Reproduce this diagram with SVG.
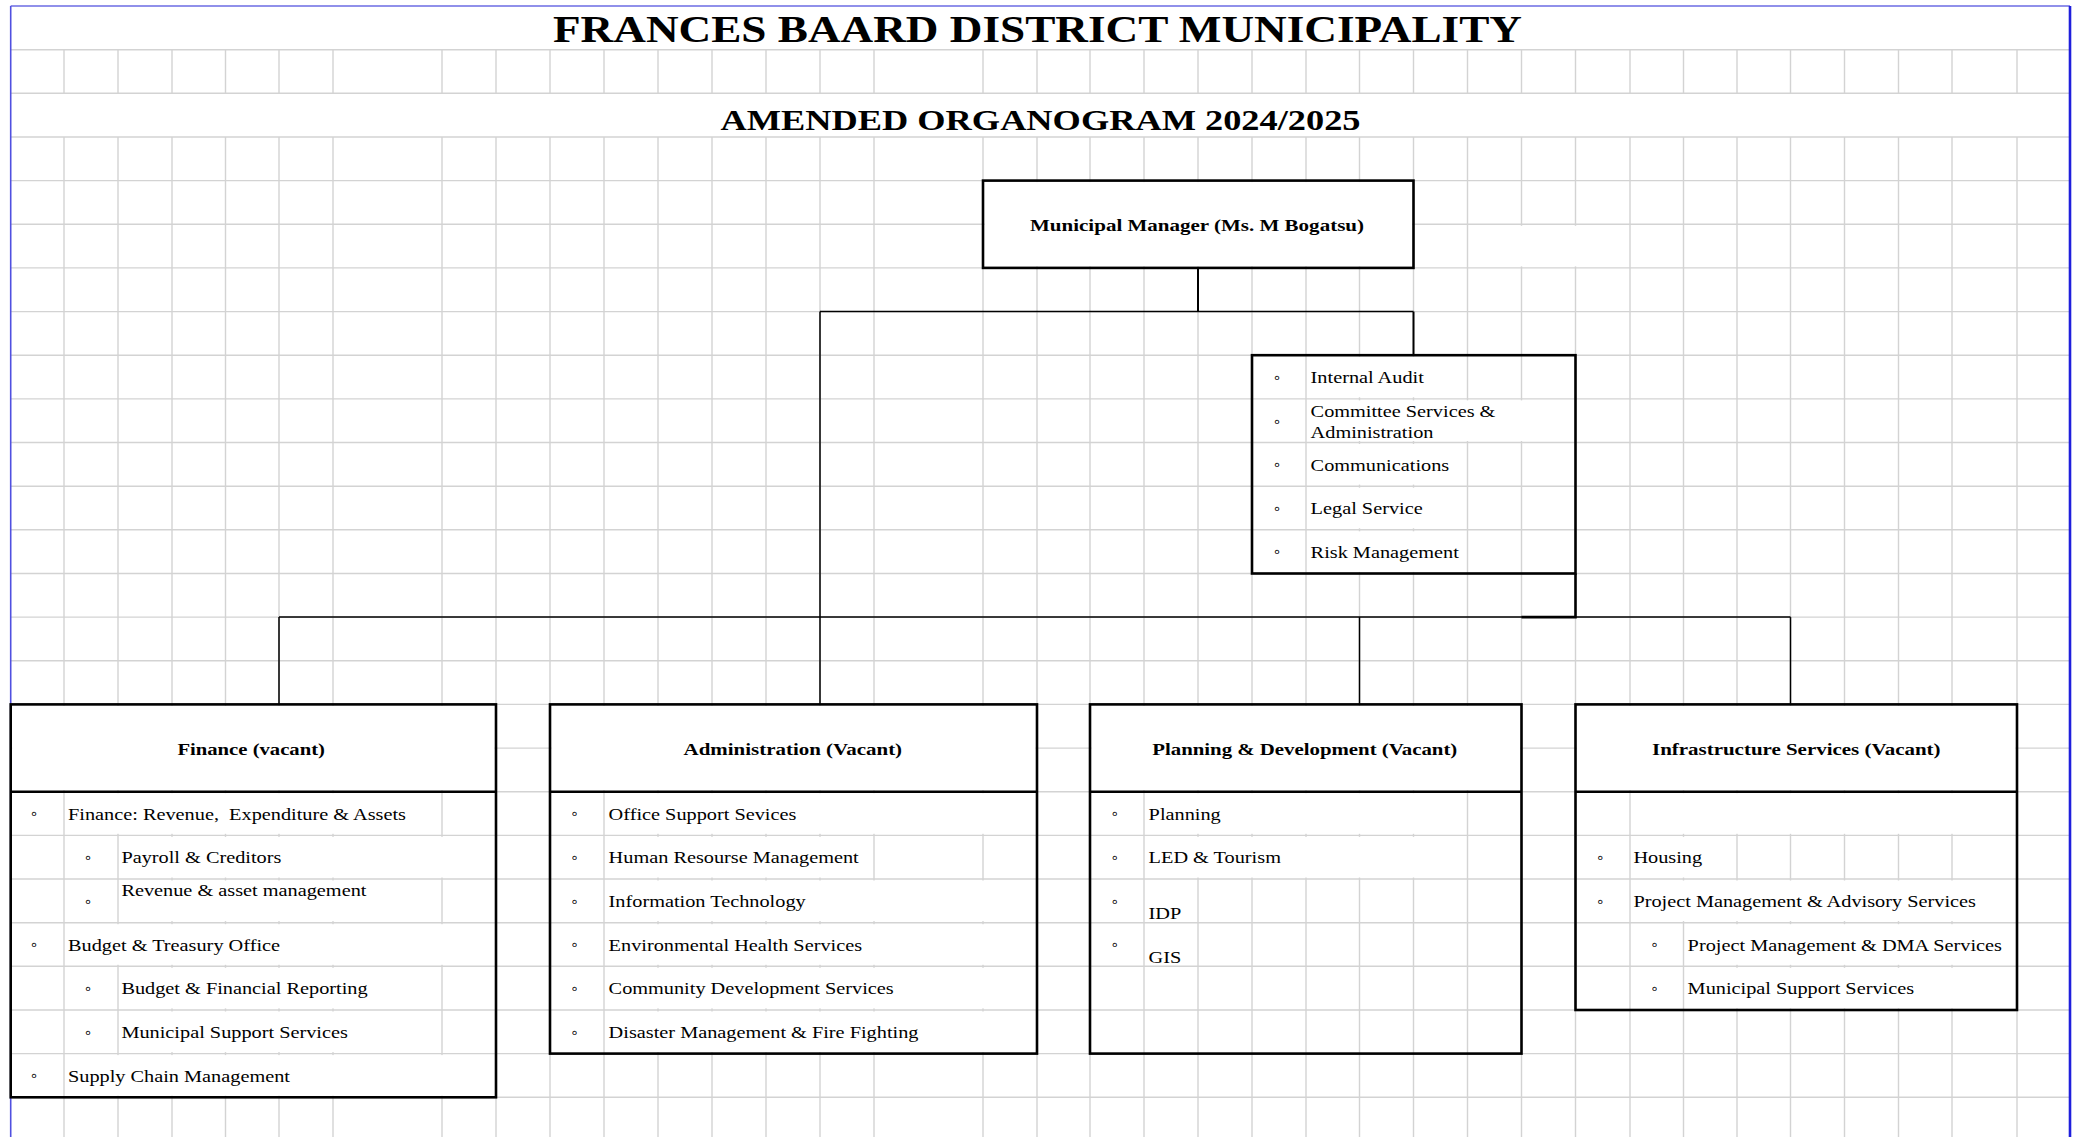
<svg xmlns="http://www.w3.org/2000/svg" width="2081" height="1137" viewBox="0 0 2081 1137">
<style>
.grid{fill:none;stroke:#d3d3d3;stroke-width:1.4}
.mask{fill:#ffffff}
.box{fill:none;stroke:#000;stroke-width:2.6}
.conn{fill:none;stroke:#000;stroke-width:1.5}
.stem{fill:none;stroke:#000;stroke-width:2}
.ttl{font-family:"Liberation Serif","Times New Roman",serif;font-weight:bold;fill:#000}
.h{font-family:"Liberation Serif","Times New Roman",serif;font-weight:bold;font-size:17.5px;fill:#000}
.t{font-family:"Liberation Serif","Times New Roman",serif;font-size:17.5px;fill:#000}
.b{font-family:"DejaVu Sans",sans-serif;font-weight:bold;font-size:11px;fill:#000;stroke:#000;stroke-width:0.3;text-anchor:middle}
</style>
<rect x="0" y="0" width="2081" height="1137" fill="#ffffff"/>
<g id="grid">
<path class="grid" d="M10.7 49.7H2070M10.7 93.3H2070M10.7 137H2070M10.7 180.6H2070M10.7 224.3H2070M10.7 267.9H2070M10.7 311.6H2070M10.7 355.2H2070M10.7 398.9H2070M10.7 442.5H2070M10.7 486.2H2070M10.7 529.8H2070M10.7 573.5H2070M10.7 617.1H2070M10.7 660.8H2070M10.7 704.4H2070M10.7 748.1H2070M10.7 791.7H2070M10.7 835.4H2070M10.7 879H2070M10.7 922.7H2070M10.7 966.3H2070M10.7 1010H2070M10.7 1053.6H2070M10.7 1097.3H2070
M64 49.7V93.3M64 137V1137
M118 49.7V93.3M118 137V1137
M172 49.7V93.3M172 137V1137
M225.5 49.7V93.3M225.5 137V1137
M279 49.7V93.3M279 137V1137
M333 49.7V93.3M333 137V1137
M442 49.7V93.3M442 137V1137
M496 49.7V93.3M496 137V1137
M550 49.7V93.3M550 137V1137
M604 49.7V93.3M604 137V1137
M658 49.7V93.3M658 137V1137
M712 49.7V93.3M712 137V1137
M766 49.7V93.3M766 137V1137
M820 49.7V93.3M820 137V1137
M874 49.7V93.3M874 137V1137
M983 49.7V93.3M983 137V1137
M1037 49.7V93.3M1037 137V1137
M1090 49.7V93.3M1090 137V1137
M1144 49.7V93.3M1144 137V1137
M1198 49.7V93.3M1198 137V1137
M1252 49.7V93.3M1252 137V1137
M1306 49.7V93.3M1306 137V1137
M1359.5 49.7V93.3M1359.5 137V1137
M1413.5 49.7V93.3M1413.5 137V1137
M1467.5 49.7V93.3M1467.5 137V1137
M1521.5 49.7V93.3M1521.5 137V1137
M1575.5 49.7V93.3M1575.5 137V1137
M1630 49.7V93.3M1630 137V1137
M1683.5 49.7V93.3M1683.5 137V1137
M1737 49.7V93.3M1737 137V1137
M1790.5 49.7V93.3M1790.5 137V1137
M1844.5 49.7V93.3M1844.5 137V1137
M1898.5 49.7V93.3M1898.5 137V1137
M1952 49.7V93.3M1952 137V1137
M2017 49.7V93.3M2017 137V1137"/>
<rect class="mask" x="984.5" y="182.1" width="427.5" height="84.3"/>
<rect class="mask" x="1469" y="225.8" width="159.5" height="40.6"/>
<rect class="mask" x="1307.5" y="356.7" width="158.5" height="40.6"/>
<rect class="mask" x="1307.5" y="400.4" width="266.5" height="40.6"/>
<rect class="mask" x="1307.5" y="444" width="158.5" height="40.6"/>
<rect class="mask" x="1307.5" y="487.7" width="158.5" height="40.6"/>
<rect class="mask" x="1307.5" y="531.3" width="158.5" height="40.6"/>
<rect class="mask" x="12.2" y="705.9" width="482.3" height="84.3"/>
<rect class="mask" x="551.5" y="705.9" width="484" height="84.3"/>
<rect class="mask" x="1091.5" y="705.9" width="428.5" height="84.3"/>
<rect class="mask" x="1577" y="705.9" width="438.5" height="84.3"/>
<rect class="mask" x="65.5" y="793.2" width="375" height="40.6"/>
<rect class="mask" x="119.5" y="836.9" width="375" height="40.6"/>
<rect class="mask" x="119.5" y="880.5" width="321" height="40.6"/>
<rect class="mask" x="65.5" y="924.2" width="429" height="40.6"/>
<rect class="mask" x="119.5" y="967.8" width="321" height="40.6"/>
<rect class="mask" x="119.5" y="1011.5" width="321" height="40.6"/>
<rect class="mask" x="65.5" y="1055.1" width="429" height="40.6"/>
<rect class="mask" x="605.5" y="793.2" width="430" height="40.6"/>
<rect class="mask" x="605.5" y="836.9" width="267" height="40.6"/>
<rect class="mask" x="605.5" y="880.5" width="430" height="40.6"/>
<rect class="mask" x="605.5" y="924.2" width="430" height="40.6"/>
<rect class="mask" x="605.5" y="967.8" width="430" height="40.6"/>
<rect class="mask" x="605.5" y="1011.5" width="430" height="40.6"/>
<rect class="mask" x="1145.5" y="793.2" width="320.5" height="40.6"/>
<rect class="mask" x="1145.5" y="836.9" width="320.5" height="40.6"/>
<rect class="mask" x="1631.5" y="793.2" width="384" height="40.6"/>
<rect class="mask" x="1631.5" y="836.9" width="104" height="40.6"/>
<rect class="mask" x="1631.5" y="880.5" width="384" height="40.6"/>
<rect class="mask" x="1685" y="924.2" width="330.5" height="40.6"/>
<rect class="mask" x="1685" y="967.8" width="330.5" height="40.6"/>
</g>
<g id="frame">
<path d="M10.7 6H2070" fill="none" stroke="#6b6be3" stroke-width="1.3"/>
<path d="M10.7 6V1137" fill="none" stroke="#5050e0" stroke-width="1.6"/>
<path d="M2070 6V1137" fill="none" stroke="#1f1fdc" stroke-width="2.6"/>
</g>
<g id="title">
<text class="ttl" x="553" y="41.5" font-size="37" textLength="969" lengthAdjust="spacingAndGlyphs">FRANCES BAARD DISTRICT MUNICIPALITY</text>
<text class="ttl" x="720.5" y="130" font-size="30" textLength="640" lengthAdjust="spacingAndGlyphs">AMENDED ORGANOGRAM 2024/2025</text>
</g>
<g id="connectors">
<path class="stem" d="M1198 267.9V311.6"/>
<path class="conn" d="M820 311.6H1413.5"/>
<path class="stem" d="M1413.5 311.6V355.2"/>
<path class="conn" d="M820 311.6V704.4"/>
<path class="conn" d="M279 617.1H1790.5"/>
<path class="conn" d="M279 617.1V704.4"/>
<path class="conn" d="M1359.5 617.1V704.4"/>
<path class="conn" d="M1790.5 617.1V704.4"/>
<path class="box" d="M1575.5 573.5V617.1H1521.5"/>
</g>
<g id="node-municipal-manager">
<rect class="box" x="983" y="180.6" width="430.5" height="87.3"/>
<text class="h" x="1030" y="230.5" textLength="334" lengthAdjust="spacingAndGlyphs">Municipal Manager (Ms. M Bogatsu)</text>
</g>
<g id="node-office-units">
<rect class="box" x="1252" y="355.2" width="323.5" height="218.3"/>
<text class="b" x="1277" y="425.5">◦</text>
<text class="b" x="1277" y="381.8">◦</text>
<text class="b" x="1277" y="469">◦</text>
<text class="b" x="1277" y="512.7">◦</text>
<text class="b" x="1277" y="556.3">◦</text>
<text class="t" transform="translate(1310.6 383.2) scale(1.16 1)">Internal Audit</text>
<text class="t" transform="translate(1310.6 416.7) scale(1.16 1)">Committee Services &amp;</text>
<text class="t" transform="translate(1310.6 437.7) scale(1.16 1)">Administration</text>
<text class="t" transform="translate(1310.6 470.5) scale(1.16 1)">Communications</text>
<text class="t" transform="translate(1310.6 514.2) scale(1.16 1)">Legal Service</text>
<text class="t" transform="translate(1310.6 557.8) scale(1.16 1)">Risk Management</text>
</g>
<g id="node-finance">
<rect class="box" x="10.7" y="704.4" width="485.3" height="392.9"/>
<path class="box" d="M10.7 791.7H496"/>
<text class="h" x="177.4" y="755" textLength="147.6" lengthAdjust="spacingAndGlyphs">Finance (vacant)</text>
<text class="b" x="34" y="818.3">◦</text>
<text class="b" x="88" y="862">◦</text>
<text class="b" x="88" y="905.7">◦</text>
<text class="b" x="34" y="949.4">◦</text>
<text class="b" x="88" y="993">◦</text>
<text class="b" x="88" y="1036.7">◦</text>
<text class="b" x="34" y="1080.3">◦</text>
<text class="t" xml:space="preserve" style="white-space:pre" transform="translate(68 819.7) scale(1.16 1)">Finance: Revenue,  Expenditure &amp; Assets</text>
<text class="t" transform="translate(121.4 863.4) scale(1.16 1)">Payroll &amp; Creditors</text>
<text class="t" transform="translate(121.4 896) scale(1.16 1)">Revenue &amp; asset management</text>
<text class="t" transform="translate(68 950.7) scale(1.16 1)">Budget &amp; Treasury Office</text>
<text class="t" transform="translate(121.4 994.3) scale(1.16 1)">Budget &amp; Financial Reporting</text>
<text class="t" transform="translate(121.4 1038) scale(1.16 1)">Municipal Support Services</text>
<text class="t" transform="translate(68 1081.6) scale(1.16 1)">Supply Chain Management</text>
</g>
<g id="node-administration">
<rect class="box" x="550" y="704.4" width="487" height="349.2"/>
<path class="box" d="M550 791.7H1037"/>
<text class="h" x="683.6" y="755" textLength="218.5" lengthAdjust="spacingAndGlyphs">Administration (Vacant)</text>
<text class="b" x="574.6" y="818.3">◦</text>
<text class="b" x="574.6" y="862">◦</text>
<text class="b" x="574.6" y="905.7">◦</text>
<text class="b" x="574.6" y="949.4">◦</text>
<text class="b" x="574.6" y="993">◦</text>
<text class="b" x="574.6" y="1036.7">◦</text>
<text class="t" transform="translate(608.6 819.7) scale(1.16 1)">Office Support Sevices</text>
<text class="t" transform="translate(608.6 863.4) scale(1.16 1)">Human Resourse Management</text>
<text class="t" transform="translate(608.6 907) scale(1.16 1)">Information Technology</text>
<text class="t" transform="translate(608.6 950.7) scale(1.16 1)">Environmental Health Services</text>
<text class="t" transform="translate(608.6 994.3) scale(1.16 1)">Community Development Services</text>
<text class="t" transform="translate(608.6 1038) scale(1.16 1)">Disaster Management &amp; Fire Fighting</text>
</g>
<g id="node-planning">
<rect class="box" x="1090" y="704.4" width="431.5" height="349.2"/>
<path class="box" d="M1090 791.7H1521.5"/>
<text class="h" x="1152.3" y="755" textLength="305" lengthAdjust="spacingAndGlyphs">Planning &amp; Development (Vacant)</text>
<text class="b" x="1114.8" y="818.3">◦</text>
<text class="b" x="1114.8" y="862">◦</text>
<text class="b" x="1114.8" y="905.7">◦</text>
<text class="b" x="1114.8" y="949.4">◦</text>
<text class="t" transform="translate(1148.6 819.7) scale(1.16 1)">Planning</text>
<text class="t" transform="translate(1148.6 863.4) scale(1.16 1)">LED &amp; Tourism</text>
<text class="t" transform="translate(1148.6 919) scale(1.16 1)">IDP</text>
<text class="t" transform="translate(1148.6 962.7) scale(1.16 1)">GIS</text>
</g>
<g id="node-infrastructure">
<rect class="box" x="1575.5" y="704.4" width="441.5" height="305.6"/>
<path class="box" d="M1575.5 791.7H2017"/>
<text class="h" x="1652" y="755" textLength="288.5" lengthAdjust="spacingAndGlyphs">Infrastructure Services (Vacant)</text>
<text class="b" x="1600.2" y="862">◦</text>
<text class="b" x="1600.2" y="905.7">◦</text>
<text class="b" x="1654.4" y="949.4">◦</text>
<text class="b" x="1654.4" y="993">◦</text>
<text class="t" transform="translate(1633.4 863.4) scale(1.16 1)">Housing</text>
<text class="t" transform="translate(1633.4 907) scale(1.16 1)">Project Management &amp; Advisory Services</text>
<text class="t" transform="translate(1687.6 950.7) scale(1.16 1)">Project Management &amp; DMA Services</text>
<text class="t" transform="translate(1687.6 994.3) scale(1.16 1)">Municipal Support Services</text>
</g>
</svg>
